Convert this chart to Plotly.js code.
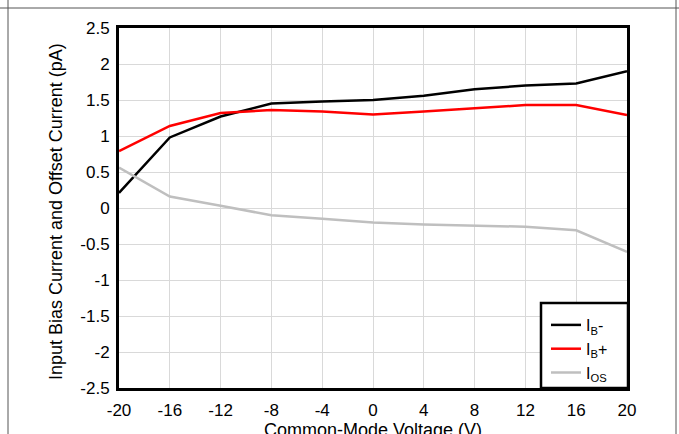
<!DOCTYPE html>
<html><head><meta charset="utf-8">
<script src="https://cdn.plot.ly/plotly-3.0.1.min.js"></script>
<style>html,body{margin:0;padding:0;background:#fff}#c{width:679px;height:434px}</style>
</head><body><div id="c"></div>
<script>
const voltage = [-20, -16, -12, -8, -4, 0, 4, 8, 12, 16, 20];
const ibMinus = [0.21, 0.98, 1.27, 1.45, 1.48, 1.50, 1.56, 1.65, 1.70, 1.73, 1.90];
const ibPlus  = [0.79, 1.14, 1.32, 1.36, 1.34, 1.30, 1.34, 1.39, 1.43, 1.43, 1.29];
const iOS     = [0.56, 0.16, 0.03, -0.10, -0.15, -0.20, -0.23, -0.25, -0.26, -0.31, -0.61];
const xTicks = [-20, -16, -12, -8, -4, 0, 4, 8, 12, 16, 20];
const xTickText = ['-20','-16','-12','-8','-4','0','4','8','12','16','20'];
const yTicks = [2.5, 2, 1.5, 1, 0.5, 0, -0.5, -1, -1.5, -2, -2.5];
const yTickText = ['2.5','2','1.5','1','0.5','0','-0.5','-1','-1.5','-2','-2.5'];
const xTitle = 'Common-Mode Voltage (V)';
const yTitle = 'Input Bias Current and Offset Current (pA)';

const L=119, R=52, T=28, B=46, W=679, H=434;
const pw = W-L-R, ph = H-T-B;
function px(x){return (x-L)/pw;}
function py(y){return (H-B-y)/ph;}

const traces = [
  {x: voltage, y: ibMinus, name: 'I<sub>B</sub>-', mode: 'lines', line: {color: '#000000', width: 2.5}},
  {x: voltage, y: ibPlus, name: 'I<sub>B</sub>+', mode: 'lines', line: {color: '#ff0000', width: 2.5}},
  {x: voltage, y: iOS, name: 'I<sub>OS</sub>', mode: 'lines', line: {color: '#bfbfbf', width: 2.5}}
];
const fam = 'Liberation Sans, Arial, sans-serif';
const tickFont = {family: fam, size: 17, color: '#000'};
const titleFont = {family: fam, size: 18, color: '#000'};
const layout = {
  width: W, height: H,
  margin: {l: L, r: R, t: T, b: B},
  paper_bgcolor: '#fff', plot_bgcolor: '#fff',
  font: tickFont,
  showlegend: true,
  legend: {x: px(546), y: py(308), xanchor: 'left', yanchor: 'top', bgcolor: 'rgba(0,0,0,0)',
           borderwidth: 0, font: {family: fam, size: 16, color: '#000'},
           tracegroupgap: 0},
  xaxis: {range: [-20, 20], tickvals: xTicks, ticktext: xTickText, showgrid: true,
          gridcolor: '#d9d9d9', gridwidth: 1, zeroline: false, showline: true, linecolor: '#000',
          linewidth: 3, mirror: true, ticks: '', ticklen: 0, tickfont: tickFont, ticklabelstandoff: 5},
  yaxis: {range: [-2.5, 2.5], tickvals: yTicks, ticktext: yTickText, showgrid: true,
          gridcolor: '#d9d9d9', gridwidth: 1, zeroline: false, showline: true, linecolor: '#000',
          linewidth: 3, mirror: true, ticks: '', ticklen: 0, tickfont: tickFont, ticklabelstandoff: 3},
  annotations: [
    {text: xTitle, xref: 'paper', yref: 'paper', x: 0.5, y: py(418), xanchor: 'center', yanchor: 'top',
     showarrow: false, font: titleFont},
    {text: yTitle, xref: 'paper', yref: 'paper', x: px(56), y: py(212), xanchor: 'center', yanchor: 'middle',
     textangle: -90, showarrow: false, font: titleFont}
  ],
  shapes: [
    {type: 'rect', xref: 'paper', yref: 'paper', x0: px(541), x1: px(628), y0: py(303), y1: py(388),
     fillcolor: '#fff', line: {color: '#000', width: 2.5}, layer: 'above'},
    {type: 'line', xref: 'paper', yref: 'paper', x0: px(0), x1: px(679), y0: py(8), y1: py(8), line: {color: '#555', width: 1}},
    {type: 'line', xref: 'paper', yref: 'paper', x0: px(8), x1: px(8), y0: py(0), y1: py(434), line: {color: '#555', width: 1}},
    {type: 'line', xref: 'paper', yref: 'paper', x0: px(676), x1: px(676), y0: py(0), y1: py(434), line: {color: '#555', width: 1}}
  ]
};
Plotly.newPlot('c', traces, layout, {displayModeBar: false, staticPlot: true});
</script></body></html>
